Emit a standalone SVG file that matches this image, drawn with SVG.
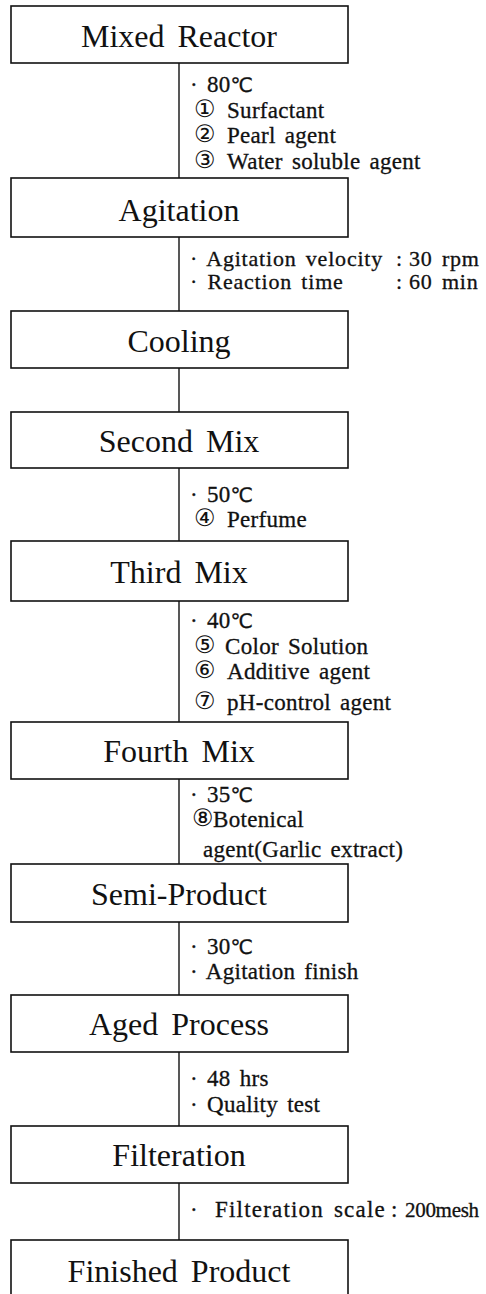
<svg xmlns="http://www.w3.org/2000/svg" width="486" height="1294" viewBox="0 0 486 1294">
  <style>
    .box { fill: #ffffff; stroke: #111111; stroke-width: 1.6; }
    .title { font-family: "Liberation Serif", "DejaVu Serif", serif; font-size: 32px; fill: #111111; text-anchor: middle; word-spacing: 5px; }
    .link { stroke: #111111; stroke-width: 1.4; fill: none; }
    .note { font-family: "Liberation Serif", "DejaVu Serif", serif; font-size: 23px; fill: #111111; stroke: #111111; stroke-width: 0.3px; word-spacing: 3px; letter-spacing: 0.3px; }
    .tight { font-size: 22px; letter-spacing: 0.8px; }
    .num { font-family: "DejaVu Sans", "Noto Sans CJK KR", sans-serif; font-size: 24px; stroke-width: 0; }
    .deg { font-family: "DejaVu Sans", "Noto Sans CJK KR", sans-serif; font-size: 20px; letter-spacing: -1px; }
  </style>
  <rect width="486" height="1294" fill="#ffffff"/>

  <!-- vertical connectors between process steps, with their conditions -->
  <g id="connectors">
    <line class="link" x1="179" y1="63" x2="179" y2="178"/>
    <line class="link" x1="179" y1="237" x2="179" y2="311"/>
    <line class="link" x1="179" y1="368" x2="179" y2="412"/>
    <line class="link" x1="179" y1="468" x2="179" y2="541"/>
    <line class="link" x1="179" y1="601" x2="179" y2="722"/>
    <line class="link" x1="179" y1="779" x2="179" y2="864"/>
    <line class="link" x1="179" y1="922" x2="179" y2="995"/>
    <line class="link" x1="179" y1="1052" x2="179" y2="1126"/>
    <line class="link" x1="179" y1="1183" x2="179" y2="1240"/>

    <text id="cond-mix" class="note">
      <tspan x="190" y="92">· 80<tspan class="deg">℃</tspan></tspan>
      <tspan class="num" x="194" y="117">①</tspan><tspan x="227" y="118">Surfactant</tspan>
      <tspan class="num" x="194" y="142">②</tspan><tspan x="227" y="143">Pearl agent</tspan>
      <tspan class="num" x="194" y="168">③</tspan><tspan x="227" y="169">Water soluble agent</tspan>
    </text>
    <text id="cond-agitation" class="note tight">
      <tspan x="190" y="266">· Agitation velocity</tspan><tspan x="396" y="266">:</tspan><tspan x="409" y="266">30 rpm</tspan>
      <tspan x="190" y="289">· Reaction time</tspan><tspan x="396" y="289">:</tspan><tspan x="409" y="289">60 min</tspan>
    </text>
    <text id="cond-second" class="note">
      <tspan x="190" y="502">· 50<tspan class="deg">℃</tspan></tspan>
      <tspan class="num" x="194" y="526">④</tspan><tspan x="227" y="527">Perfume</tspan>
    </text>
    <text id="cond-third" class="note">
      <tspan x="190" y="628">· 40<tspan class="deg">℃</tspan></tspan>
      <tspan class="num" x="194" y="653">⑤</tspan><tspan x="225" y="654">Color Solution</tspan>
      <tspan class="num" x="194" y="678">⑥</tspan><tspan x="227" y="679">Additive agent</tspan>
      <tspan class="num" x="194" y="709">⑦</tspan><tspan x="227" y="710">pH-control agent</tspan>
    </text>
    <text id="cond-fourth" class="note">
      <tspan x="190" y="802">· 35<tspan class="deg">℃</tspan></tspan>
      <tspan class="num" x="192" y="826">⑧</tspan><tspan x="213" y="827">Botenical</tspan>
      <tspan x="203" y="857">agent(Garlic extract)</tspan>
    </text>
    <text id="cond-semi" class="note">
      <tspan x="190" y="954">· 30<tspan class="deg">℃</tspan></tspan>
      <tspan x="190" y="979">· Agitation finish</tspan>
    </text>
    <text id="cond-aged" class="note">
      <tspan x="190" y="1086">· 48 hrs</tspan>
      <tspan x="190" y="1112">· Quality test</tspan>
    </text>
    <text id="cond-filter" class="note">
      <tspan x="190" y="1217">·</tspan><tspan x="215" y="1217" letter-spacing="1.2">Filteration scale</tspan><tspan x="391" y="1217">:</tspan><tspan x="405" y="1217" font-size="21" letter-spacing="-0.3">200mesh</tspan>
    </text>
  </g>

  <!-- process steps -->
  <g id="mixed-reactor">
    <rect class="box" x="11" y="6" width="337" height="57"/>
    <text class="title" x="179" y="47">Mixed Reactor</text>
  </g>
  <g id="agitation">
    <rect class="box" x="11" y="178" width="337" height="59"/>
    <text class="title" x="179" y="221">Agitation</text>
  </g>
  <g id="cooling">
    <rect class="box" x="11" y="311" width="337" height="57"/>
    <text class="title" x="179" y="352">Cooling</text>
  </g>
  <g id="second-mix">
    <rect class="box" x="11" y="412" width="337" height="56"/>
    <text class="title" x="179" y="452">Second Mix</text>
  </g>
  <g id="third-mix">
    <rect class="box" x="11" y="541" width="337" height="60"/>
    <text class="title" x="179" y="583">Third Mix</text>
  </g>
  <g id="fourth-mix">
    <rect class="box" x="11" y="722" width="337" height="57"/>
    <text class="title" x="179" y="762">Fourth Mix</text>
  </g>
  <g id="semi-product">
    <rect class="box" x="11" y="864" width="337" height="58"/>
    <text class="title" x="179" y="905">Semi-Product</text>
  </g>
  <g id="aged-process">
    <rect class="box" x="11" y="995" width="337" height="57"/>
    <text class="title" x="179" y="1035">Aged Process</text>
  </g>
  <g id="filteration">
    <rect class="box" x="11" y="1126" width="337" height="57"/>
    <text class="title" x="179" y="1166">Filteration</text>
  </g>
  <g id="finished-product">
    <rect class="box" x="11" y="1240" width="337" height="70"/>
    <text class="title" x="179" y="1282">Finished Product</text>
  </g>
</svg>
